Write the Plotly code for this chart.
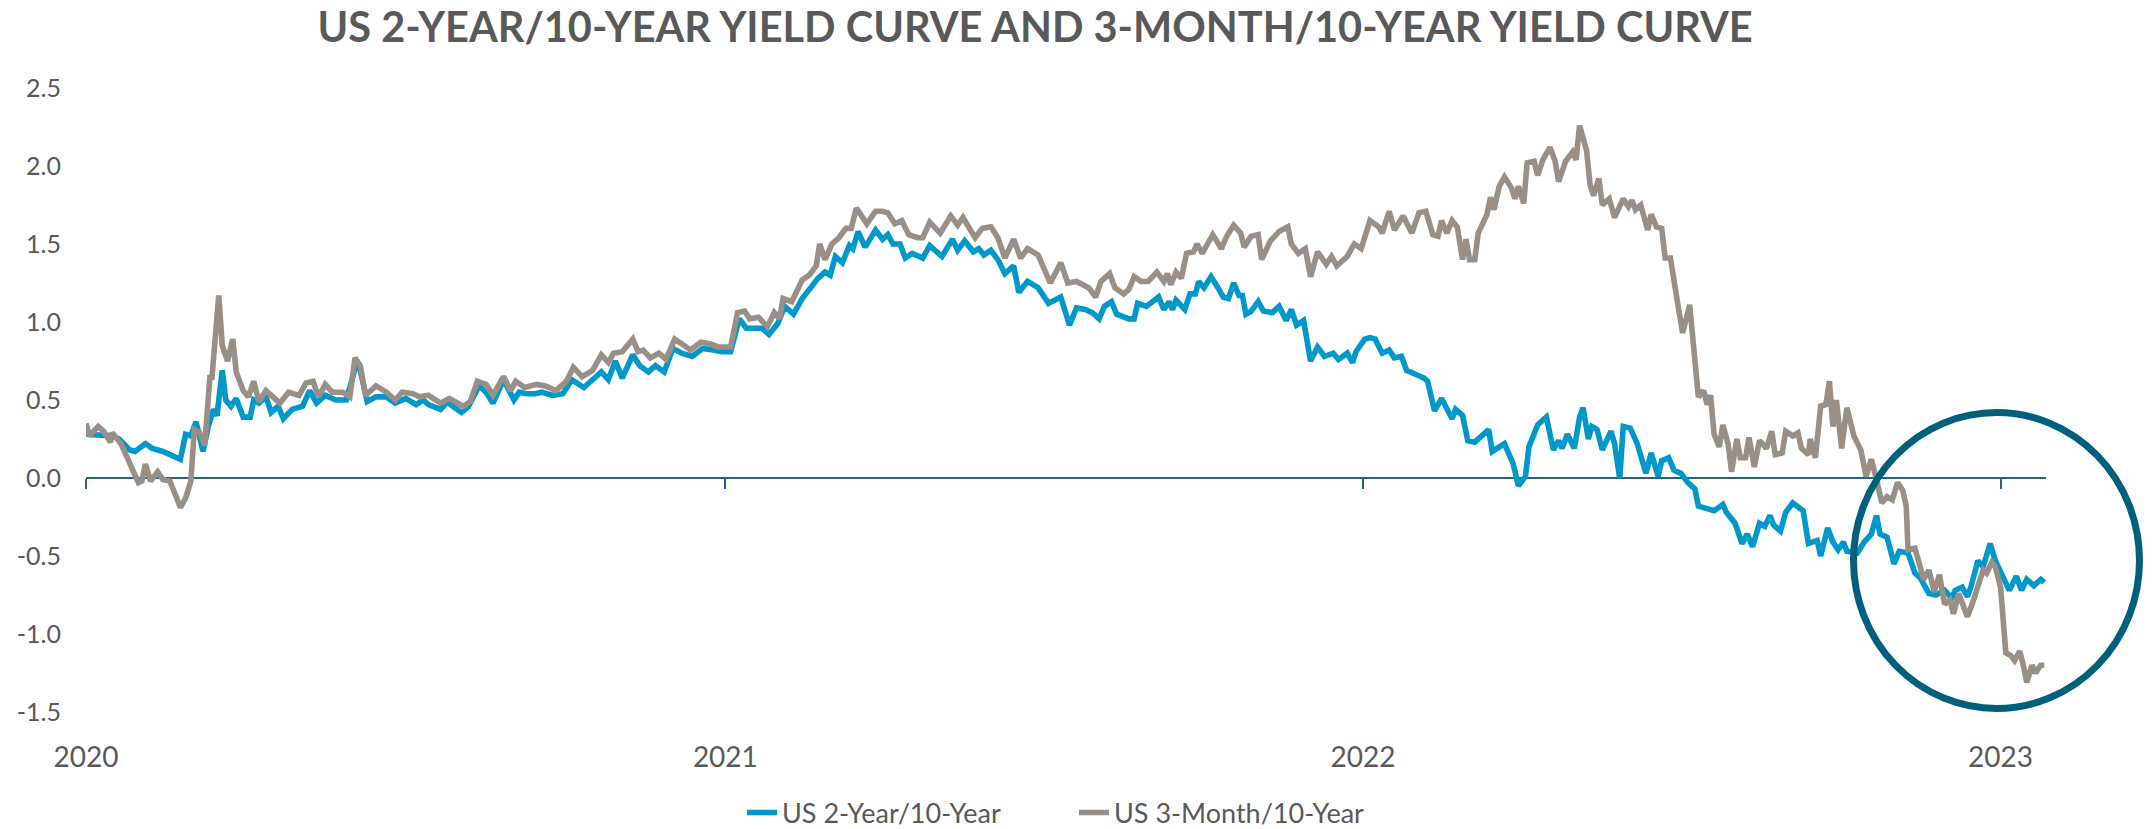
import plotly.graph_objects as go
import pandas as pd

# ---------------- data ----------------
START = "2020-01-01"   # day offsets below are counted from this date

two_ten_days = [0, 8, 15, 19, 25, 28, 34, 38, 44, 52, 54, 57, 60, 63, 67, 70, 73, 75, 78, 80, 83, 86, 90, 94, 96, 99,
                103, 106, 110, 113, 118, 124, 128, 132, 137, 143, 149, 155, 157, 161, 166, 172, 177, 183, 189, 193, 196,
                203, 207, 210, 215, 219, 225, 229, 233, 239, 245, 248, 252, 257, 261, 267, 273, 278, 285, 290, 295, 299,
                303, 307, 313, 317, 322, 326, 331, 336, 341, 347, 353, 359, 364, 369, 374, 378, 383, 387, 391, 396, 400,
                405, 410, 415, 419, 423, 426, 429, 433, 437, 439, 442, 446, 452, 456, 459, 462, 466, 469, 473, 479, 483,
                490, 496, 499, 503, 508, 511, 514, 518, 522, 526, 531, 534, 539, 545, 551, 558, 563, 567, 572, 576, 580,
                583, 587, 590, 597, 600, 602, 607, 614, 617, 620, 622, 624, 629, 632, 635, 637, 640, 644, 648, 651, 654,
                657, 660, 662, 664, 667, 671, 674, 679, 683, 687, 690, 693, 697, 701, 705, 709, 714, 717, 722, 725, 727,
                732, 735, 738, 742, 746, 749, 753, 756, 762, 766, 768, 772, 776, 782, 784, 788, 791, 795, 799, 803, 805,
                812, 817, 820, 824, 826, 831, 836, 840, 843, 845, 848, 852, 855, 857, 860, 862, 865, 868, 873, 875, 878,
                880, 884, 888, 893, 896, 900, 902, 906, 909, 913, 917, 921, 923, 932, 937, 939, 944, 948, 951, 954, 958,
                961, 964, 966, 970, 973, 977, 980, 983, 986, 991, 993, 997, 1000, 1003, 1006, 1008, 1014, 1018, 1022,
                1025, 1027, 1031, 1035, 1038, 1043, 1047, 1050, 1055, 1059, 1064, 1068, 1070, 1074, 1077, 1079, 1083,
                1086, 1088, 1090, 1093, 1097, 1101, 1105, 1108, 1111, 1115, 1119, 1121]
two_ten_values = [0.28, 0.27, 0.27, 0.25, 0.18, 0.17, 0.22, 0.19, 0.17, 0.13, 0.12, 0.28, 0.27, 0.36, 0.17, 0.33, 0.44,
                  0.40, 0.69, 0.50, 0.46, 0.51, 0.39, 0.39, 0.50, 0.48, 0.52, 0.42, 0.46, 0.38, 0.44, 0.46, 0.56, 0.48,
                  0.53, 0.50, 0.50, 0.74, 0.69, 0.49, 0.52, 0.52, 0.48, 0.51, 0.47, 0.50, 0.47, 0.44, 0.49, 0.46, 0.42,
                  0.46, 0.59, 0.55, 0.48, 0.63, 0.50, 0.55, 0.54, 0.54, 0.55, 0.53, 0.54, 0.63, 0.58, 0.63, 0.68, 0.63,
                  0.75, 0.64, 0.79, 0.72, 0.68, 0.72, 0.68, 0.83, 0.80, 0.78, 0.83, 0.82, 0.81, 0.81, 1.02, 0.96, 0.96,
                  0.96, 0.92, 0.99, 1.10, 1.05, 1.15, 1.23, 1.28, 1.32, 1.30, 1.42, 1.38, 1.49, 1.47, 1.58, 1.48, 1.59,
                  1.53, 1.56, 1.50, 1.50, 1.41, 1.44, 1.41, 1.49, 1.42, 1.53, 1.46, 1.52, 1.45, 1.47, 1.43, 1.46, 1.40,
                  1.31, 1.36, 1.19, 1.26, 1.22, 1.12, 1.16, 0.98, 1.09, 1.08, 1.06, 1.02, 1.10, 1.13, 1.05, 1.02, 1.02,
                  1.12, 1.10, 1.16, 1.08, 1.13, 1.08, 1.14, 1.08, 1.18, 1.18, 1.26, 1.22, 1.29, 1.22, 1.16, 1.15, 1.25,
                  1.17, 1.17, 1.05, 1.07, 1.13, 1.07, 1.06, 1.10, 1.01, 1.08, 0.98, 1.01, 0.75, 0.84, 0.78, 0.80, 0.76,
                  0.80, 0.74, 0.81, 0.89, 0.90, 0.89, 0.80, 0.82, 0.77, 0.78, 0.69, 0.66, 0.64, 0.62, 0.43, 0.51, 0.38,
                  0.44, 0.40, 0.24, 0.23, 0.27, 0.31, 0.17, 0.22, 0.09, -0.05, 0.01, 0.20, 0.34, 0.39, 0.18, 0.24, 0.19,
                  0.28, 0.19, 0.39, 0.45, 0.25, 0.33, 0.31, 0.18, 0.30, 0.22, 0.00, 0.33, 0.32, 0.22, 0.03, 0.16, 0.01,
                  0.11, 0.13, 0.05, 0.03, -0.03, -0.07, -0.18, -0.21, -0.17, -0.22, -0.29, -0.42, -0.36, -0.44, -0.29,
                  -0.31, -0.24, -0.30, -0.34, -0.22, -0.16, -0.19, -0.21, -0.42, -0.40, -0.50, -0.32, -0.41, -0.46, -0.41,
                  -0.47, -0.48, -0.41, -0.36, -0.24, -0.36, -0.38, -0.55, -0.47, -0.48, -0.61, -0.64, -0.74, -0.75, -0.72,
                  -0.77, -0.72, -0.70, -0.76, -0.70, -0.53, -0.57, -0.48, -0.42, -0.53, -0.62, -0.72, -0.63, -0.72, -0.65,
                  -0.69, -0.65, -0.67]

three_month_days = [0, 2, 7, 10, 14, 15, 20, 23, 27, 30, 32, 34, 37, 41, 44, 48, 52, 54, 57, 60, 62, 65, 68, 71, 72, 76,
                    78, 81, 84, 86, 90, 93, 96, 99, 103, 107, 111, 116, 122, 126, 130, 133, 137, 141, 147, 151, 154, 157,
                    160, 166, 172, 177, 181, 187, 191, 196, 203, 208, 214, 216, 220, 224, 229, 233, 239, 243, 246, 251,
                    258, 263, 269, 275, 279, 284, 290, 295, 299, 302, 307, 313, 316, 319, 323, 328, 332, 337, 341, 346,
                    352, 357, 362, 369, 373, 377, 380, 385, 390, 394, 397, 399, 404, 410, 414, 418, 420, 423, 427, 431,
                    435, 438, 441, 444, 447, 452, 456, 459, 463, 467, 471, 476, 479, 483, 489, 495, 499, 502, 509, 513,
                    518, 522, 526, 531, 535, 539, 545, 552, 558, 562, 567, 574, 578, 581, 586, 589, 594, 597, 600, 604,
                    608, 613, 617, 619, 621, 624, 627, 630, 634, 636, 639, 642, 645, 650, 653, 657, 661, 663, 667, 671,
                    673, 678, 683, 688, 690, 694, 698, 701, 705, 710, 713, 716, 722, 726, 730, 735, 740, 742, 746, 749,
                    754, 759, 763, 767, 771, 774, 776, 779, 782, 785, 788, 790, 792, 795, 797, 802, 804, 806, 809, 812,
                    816, 818, 820, 823, 825, 829, 831, 834, 838, 841, 843, 847, 851, 853, 855, 859, 861, 863, 866, 868,
                    872, 875, 880, 883, 885, 887, 890, 894, 896, 899, 902, 904, 907, 911, 914, 918, 921, 923, 926, 928,
                    930, 932, 935, 937, 940, 942, 945, 947, 950, 952, 955, 958, 962, 965, 967, 971, 973, 977, 980, 982,
                    986, 987, 990, 993, 996, 998, 1000, 1002, 1005, 1008, 1012, 1016, 1019, 1022, 1025, 1028, 1031, 1034,
                    1037, 1040, 1042, 1043, 1047, 1049, 1052, 1055, 1058, 1061, 1064, 1067, 1069, 1072, 1075, 1077, 1080,
                    1083, 1086, 1088, 1091, 1093, 1096, 1099, 1102, 1104, 1107, 1109, 1111, 1114, 1116, 1119, 1121]
three_month_values = [0.35, 0.27, 0.33, 0.30, 0.23, 0.29, 0.22, 0.14, 0.05, -0.03, -0.02, 0.09, -0.02, 0.04, -0.01,
                      -0.02, -0.13, -0.19, -0.13, -0.02, 0.31, 0.29, 0.21, 0.66, 0.63, 1.17, 0.85, 0.75, 0.89, 0.68,
                      0.56, 0.52, 0.62, 0.49, 0.56, 0.52, 0.48, 0.55, 0.53, 0.61, 0.62, 0.52, 0.60, 0.55, 0.55, 0.52,
                      0.77, 0.72, 0.53, 0.59, 0.55, 0.50, 0.55, 0.54, 0.52, 0.53, 0.48, 0.51, 0.47, 0.46, 0.49, 0.62,
                      0.60, 0.53, 0.65, 0.56, 0.62, 0.58, 0.60, 0.59, 0.56, 0.62, 0.71, 0.65, 0.69, 0.79, 0.74, 0.80,
                      0.81, 0.89, 0.81, 0.82, 0.77, 0.80, 0.76, 0.89, 0.86, 0.82, 0.87, 0.86, 0.84, 0.84, 1.06, 1.07,
                      1.02, 1.03, 0.97, 1.06, 1.02, 1.15, 1.13, 1.27, 1.30, 1.36, 1.50, 1.40, 1.50, 1.54, 1.60, 1.60,
                      1.73, 1.68, 1.63, 1.71, 1.71, 1.70, 1.63, 1.65, 1.56, 1.54, 1.54, 1.64, 1.57, 1.68, 1.62, 1.67,
                      1.54, 1.60, 1.61, 1.54, 1.41, 1.53, 1.41, 1.47, 1.43, 1.25, 1.38, 1.25, 1.26, 1.22, 1.16, 1.26,
                      1.31, 1.22, 1.18, 1.21, 1.29, 1.26, 1.26, 1.32, 1.26, 1.31, 1.24, 1.32, 1.28, 1.44, 1.45, 1.50,
                      1.44, 1.50, 1.56, 1.47, 1.55, 1.62, 1.57, 1.48, 1.55, 1.56, 1.40, 1.52, 1.58, 1.61, 1.50, 1.44,
                      1.47, 1.29, 1.45, 1.37, 1.42, 1.36, 1.42, 1.50, 1.47, 1.65, 1.61, 1.57, 1.71, 1.59, 1.68, 1.57,
                      1.70, 1.71, 1.56, 1.55, 1.65, 1.57, 1.65, 1.61, 1.40, 1.53, 1.40, 1.40, 1.57, 1.69, 1.80, 1.72,
                      1.87, 1.93, 1.86, 1.79, 1.87, 1.76, 2.02, 2.03, 1.94, 2.04, 2.12, 2.03, 1.90, 2.03, 2.09, 2.04,
                      2.26, 2.10, 1.88, 1.81, 1.92, 1.75, 1.79, 1.67, 1.79, 1.74, 1.78, 1.72, 1.75, 1.59, 1.69, 1.61,
                      1.60, 1.41, 1.41, 1.13, 0.93, 1.11, 0.78, 0.52, 0.56, 0.47, 0.53, 0.28, 0.20, 0.34, 0.22, 0.04,
                      0.25, 0.13, 0.13, 0.26, 0.07, 0.24, 0.19, 0.30, 0.15, 0.16, 0.30, 0.27, 0.29, 0.19, 0.15, 0.25,
                      0.13, 0.46, 0.47, 0.62, 0.33, 0.50, 0.19, 0.45, 0.27, 0.18, 0.01, 0.12, -0.01, -0.16, -0.12,
                      -0.14, -0.03, -0.08, -0.18, -0.46, -0.45, -0.53, -0.65, -0.59, -0.73, -0.62, -0.81, -0.78, -0.87,
                      -0.74, -0.83, -0.89, -0.80, -0.68, -0.59, -0.61, -0.54, -0.57, -0.70, -1.12, -1.14, -1.17, -1.11,
                      -1.20, -1.31, -1.20, -1.25, -1.20, -1.20]

series_names = ["US 2-Year/10-Year", "US 3-Month/10-Year"]
year_ticks = ["2020-01-01", "2021-01-01", "2022-01-01", "2023-01-01"]
year_labels = ["2020", "2021", "2022", "2023"]
y_ticks = [-1.5, -1.0, -0.5, 0.0, 0.5, 1.0, 1.5, 2.0, 2.5]
y_labels = ["-1.5", "-1.0", "-0.5", "0.0", "0.5", "1.0", "1.5", "2.0", "2.5"]
title_text = "US 2-YEAR/10-YEAR YIELD CURVE AND 3-MONTH/10-YEAR YIELD CURVE"

# ---------------- styling ----------------
W, H = 2152, 829
ML, MR, MT, MB = 86, 106, 88, 117
FONT = "Lato, 'Open Sans', sans-serif"
TXT = "#595959"
BLUE = "#0097CB"
TAUPE = "#9A8F87"
TEAL = "#005F7B"
AXIS = "#1E6783"
LW = 5.6

start = pd.Timestamp(START)
x_two = start + pd.to_timedelta(two_ten_days, unit="D")
x_three = start + pd.to_timedelta(three_month_days, unit="D")

fig = go.Figure()
fig.add_trace(go.Scatter(x=x_two, y=two_ten_values, name=series_names[0], mode="lines",
                         line=dict(color=BLUE, width=LW)))
fig.add_trace(go.Scatter(x=x_three, y=three_month_values, name=series_names[1], mode="lines",
                         line=dict(color=TAUPE, width=LW)))
# helper trace so the zero-crossing axis is drawn
fig.add_trace(go.Scatter(x=[year_ticks[0]], y=[None], xaxis="x2", showlegend=False,
                         hoverinfo="skip", mode="lines"))

x_range = [START, "2023-01-27"]
y_range = [-1.5, 2.5]

fig.update_layout(
    width=W, height=H,
    margin=dict(l=ML, r=MR, t=MT, b=MB, pad=0),
    paper_bgcolor="white", plot_bgcolor="white",
    font=dict(family=FONT, color=TXT),
    title=dict(text="<b>" + title_text + "</b>", x=0.481, xref="container", xanchor="center",
               y=1 - 27 / H, yref="container", yanchor="middle",
               font=dict(family=FONT, size=41.5, color=TXT)),
    xaxis=dict(type="date", range=x_range, showgrid=False, zeroline=False, showline=False,
               tickvals=year_ticks, ticktext=year_labels, ticks="",
               tickfont=dict(size=28, color=TXT, family=FONT), ticklabelstandoff=26),
    xaxis2=dict(type="date", matches="x", overlaying="x", anchor="free",
                position=(0 - y_range[0]) / (y_range[1] - y_range[0]), side="bottom",
                showline=True, linecolor=AXIS, linewidth=2, showgrid=False, zeroline=False,
                tickvals=year_ticks, ticks="outside", ticklen=10, tickwidth=1.5, tickcolor=AXIS,
                showticklabels=False, layer="below traces"),
    yaxis=dict(range=y_range, tickvals=y_ticks, ticktext=y_labels, showgrid=False, zeroline=False,
               showline=False, ticks="", tickfont=dict(size=25, color=TXT, family=FONT),
               ticklabelstandoff=24),
    legend=dict(orientation="h", x=742 / W, xref="container", xanchor="left",
                y=(H - 813) / H, yref="container", yanchor="middle",
                font=dict(size=27, color=TXT, family=FONT), itemwidth=30,
                entrywidth=287, entrywidthmode="pixels",
                bgcolor="rgba(0,0,0,0)"),
    showlegend=True,
)

# highlight circle (positions in plot-area fractions; it overhangs the right edge)
pw, ph = W - ML - MR, H - MT - MB
fig.add_shape(type="circle", xref="paper", yref="paper",
              x0=(1853.5 - ML) / pw, x1=(2139.5 - ML) / pw,
              y0=(H - MB - 708.5) / ph, y1=(H - MB - 412.5) / ph,
              line=dict(color=TEAL, width=7), layer="above")

fig.write_html("out.html", config={"displayModeBar": False},
               post_script="document.body.style.margin='0px';")
